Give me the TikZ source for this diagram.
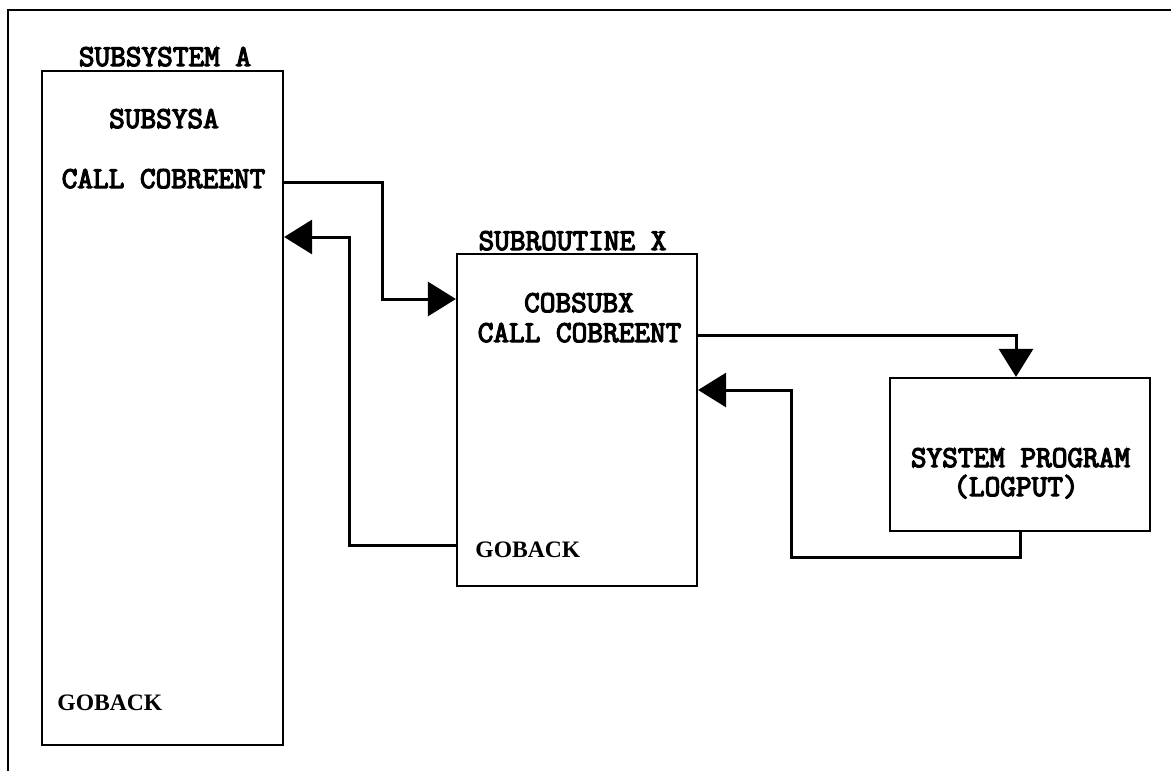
\documentclass[tikz,border=0pt]{standalone}
\usepackage{fontspec}
\newfontfamily\gofont{Liberation Serif}
\newfontfamily\codefont[FakeBold=4]{Latin Modern Mono}
\usetikzlibrary{arrows.meta}
\tikzset{%
  box/.style={draw,line width=1.1pt,inner sep=0pt},
  label/.style={font=\fontsize{15.2}{18}\selectfont\codefont,anchor=base,inner sep=0pt},
  golabel/.style={font=\fontsize{11.8}{14}\selectfont\gofont\bfseries,anchor=base west,inner sep=0pt},
  arrow/.style={-{Triangle[length=14pt,width=17pt]},line width=1.5pt}%
}
\begin{document}
\begin{tikzpicture}[x=0.5pt,y=-0.5pt]
\useasboundingbox (0,0) rectangle (1171,771);

% outer frame (only top and left edge show)
\draw[line width=1.1pt] (8,771) -- (8,10) -- (1171,10);

% Boxes
\node[box,minimum width=120.5pt,minimum height=337pt] (sysa) at (162.5,408) {};
\node[box,minimum width=120pt,minimum height=166pt] (subx) at (577,420) {};
\node[box,minimum width=130pt,minimum height=76.5pt] (sysprog) at (1020,454.5) {};

% Texts
\node[label] (titleA) at (165,66) {SUBSYSTEM A};
\node[label] (nameA) at (164,128) {SUBSYSA};
\node[label] (callA) at (163.5,188) {CALL COBREENT};
\node[golabel] (backA) at (57,710) {GOBACK};

\node[label] (titleX) at (572.5,250) {SUBROUTINE X};
\node[label] (nameX) at (579,312) {COBSUBX};
\node[label] (callX) at (579.5,342) {CALL COBREENT};
\node[golabel] (backX) at (475,557) {GOBACK};

\node[label] (sp1) at (1020.5,467) {SYSTEM PROGRAM};
\node[label] (sp2) at (1016,496) {(LOGPUT)};

% Bends
\coordinate (c1a) at (382,182);
\coordinate (c1b) at (382,299);
\coordinate (c2a) at (349,545);
\coordinate (c2b) at (349,237);
\coordinate (c3) at (1016,335);
\coordinate (c4a) at (1020,557);
\coordinate (c4b) at (791,557);
\coordinate (c4c) at (791,390);

% Connections
\draw[arrow] (sysa.east |- c1a) -- (c1a) -- (c1b) -- (subx.west |- c1b);
\draw[arrow] (subx.west |- c2a) -- (c2a) -- (c2b) -- (sysa.east |- c2b);
\draw[arrow] (subx.east |- c3) -- (c3) -- (sysprog.north -| c3);
\draw[arrow] (sysprog.south -| c4a) -- (c4a) -- (c4b) -- (c4c) -- (subx.east |- c4c);

\end{tikzpicture}
\end{document}
